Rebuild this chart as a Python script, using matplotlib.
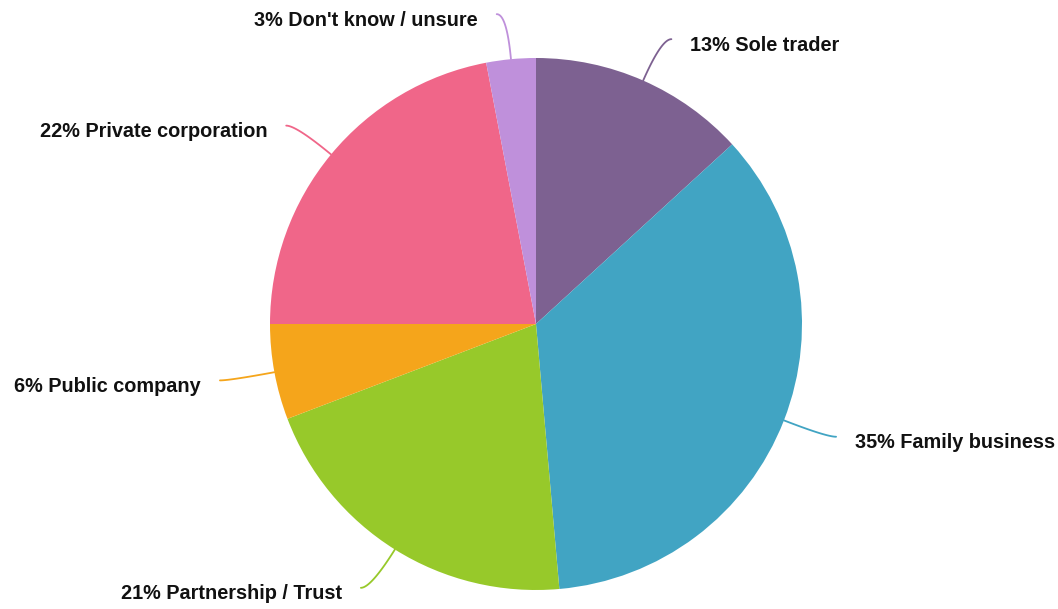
import numpy as np
import matplotlib.pyplot as plt

labels = ['Sole trader', 'Family business', 'Partnership / Trust',
          'Public company', 'Private corporation', "Don't know / unsure"]
values = [13.2, 35.4, 20.6, 5.8, 22.0, 3.0]
colors = ['#7D6191', '#41A4C3', '#97C92A', '#F5A51B', '#F06689', '#BF90DB']

plt.rcParams['font.family'] = ['Liberation Sans', 'DejaVu Sans']

W, H = 1058, 609
fig = plt.figure(figsize=(W / 100, H / 100), dpi=100)
ax = fig.add_axes([0, 0, 1, 1])

cx, cy, r = 536, H - 324, 266
ax.pie(values, colors=colors, startangle=90, counterclock=False,
       center=(cx, cy), radius=r, frame=True,
       wedgeprops=dict(linewidth=0))
ax.set_xlim(0, W)
ax.set_ylim(0, H)
ax.set_aspect('equal')
ax.axis('off')

# curved leader lines + labels
total = sum(values)
cum = np.cumsum([0] + values)
for i, (lab, v) in enumerate(zip(labels, values)):
    mid = (cum[i] + v / 2) / total * 2 * np.pi   # clockwise from top
    sx, sy = np.sin(mid), np.cos(mid)
    p0 = np.array([cx + r * sx, cy + r * sy])
    p1 = np.array([cx + r * 1.17 * sx, cy + r * 1.17 * sy])
    side = 1 if sx >= 0 else -1
    p2 = p1 + np.array([side * 10, 0])
    t = np.linspace(0, 1, 40)[:, None]
    curve = (1 - t) ** 2 * p0 + 2 * (1 - t) * t * p1 + t ** 2 * p2
    ax.plot(curve[:, 0], curve[:, 1], color=colors[i], lw=1.3,
            solid_capstyle='round')
    ax.text(p2[0] + side * 19, p2[1] - 6, f'{v:.0f}% {lab}',
            ha='left' if side > 0 else 'right', va='center',
            fontsize=14.3, fontweight='bold', color='#111111')

fig.savefig('out.png', dpi=100)
